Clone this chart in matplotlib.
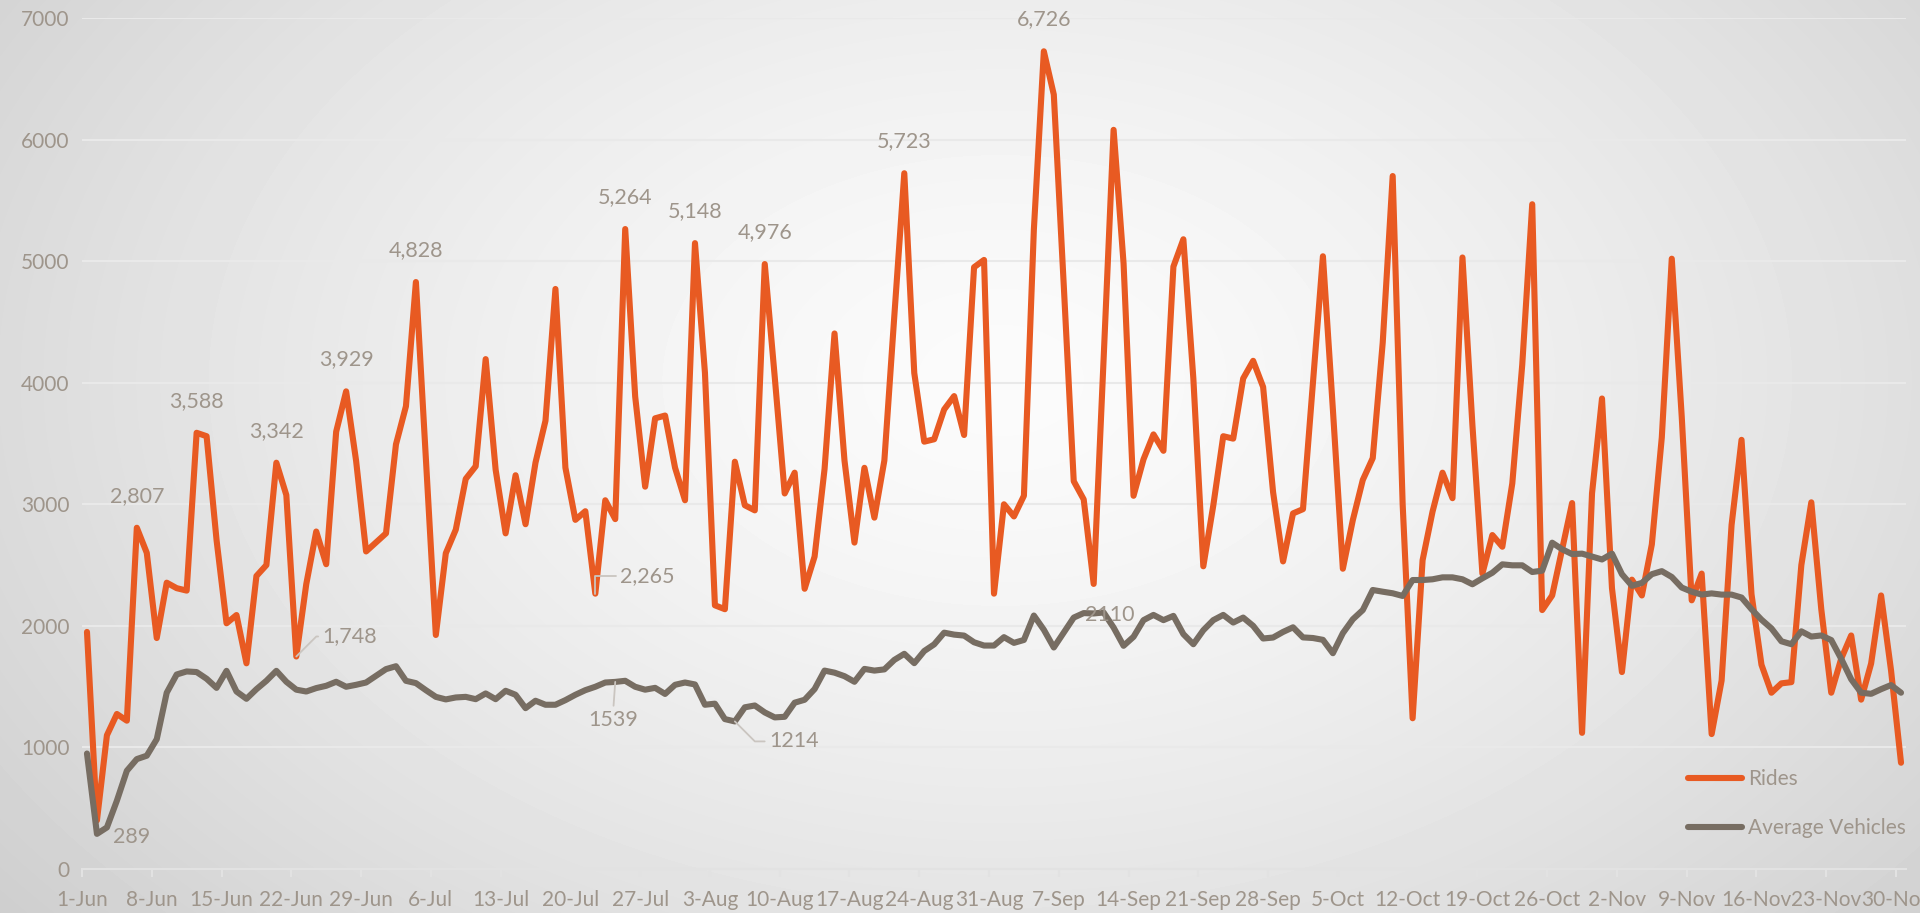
import numpy as np
import pandas as pd
import matplotlib
matplotlib.use("Agg")
import matplotlib.pyplot as plt

plt.rcParams['font.family'] = ['Lato', 'DejaVu Sans']

dates = pd.date_range("2020-06-01", "2020-11-30", freq="D")

# daily rides, one line per month
rides = (
    [1950, 400, 1100, 1275, 1220, 2807, 2600, 1900, 2355, 2310, 2290, 3588, 3560, 2706, 2021,
     2089, 1692, 2410, 2500, 3342, 3076, 1748, 2343, 2776, 2507, 3597, 3929, 3358, 2612, 2687]
    + [2761, 3493, 3806, 4828, 3380, 1925, 2597, 2791, 3209, 3313, 4194, 3284, 2761, 3239, 2836,
       3343, 3687, 4771, 3301, 2872, 2943, 2265, 3033, 2878, 5264, 3886, 3145, 3707, 3730, 3301, 3033]
    + [5148, 4081, 2169, 2137, 3350, 2992, 2950, 4976, 4049, 3089, 3260, 2305, 2570, 3290, 4405,
       3360, 2685, 3300, 2890, 3360, 4550, 5723, 4080, 3515, 3535, 3780, 3890, 3570, 4950, 5010, 2265]
    + [3000, 2900, 3070, 5260, 6726, 6370, 4800, 3190, 3040, 2345, 4200, 6080, 4980, 3070, 3370,
       3575, 3440, 4955, 5180, 4035, 2490, 2990, 3560, 3540, 4035, 4180, 3965, 3100, 2530, 2925]
    + [2960, 4000, 5040, 3780, 2470, 2870, 3200, 3380, 4330, 5700, 3000, 1240, 2540, 2940, 3260,
       3050, 5030, 3650, 2430, 2747, 2651, 3172, 4150, 5468, 2130, 2250, 2630, 3010, 1120, 3090, 3870]
    + [2310, 1620, 2380, 2250, 2670, 3550, 5020, 3720, 2210, 2430, 1110, 1550, 2830, 3530, 2260,
       1680, 1450, 1527, 1537, 2500, 3016, 2137, 1450, 1730, 1921, 1393, 1690, 2250, 1633, 874]
)

# average vehicles per day
vehicles = (
    [950, 289, 342, 562, 808, 904, 932, 1068, 1450, 1600, 1625, 1620, 1565, 1490, 1630,
     1460, 1400, 1479, 1548, 1630, 1540, 1475, 1460, 1488, 1507, 1540, 1499, 1515, 1534, 1589]
    + [1644, 1668, 1548, 1529, 1471, 1416, 1395, 1411, 1416, 1397, 1444, 1397, 1466, 1433, 1323,
       1384, 1351, 1351, 1389, 1433, 1471, 1499, 1534, 1539, 1548, 1499, 1475, 1490, 1440, 1515, 1534]
    + [1518, 1351, 1360, 1233, 1214, 1330, 1345, 1288, 1247, 1252, 1368, 1392, 1480, 1632, 1615,
       1586, 1540, 1646, 1632, 1642, 1720, 1770, 1693, 1793, 1848, 1944, 1928, 1920, 1865, 1838, 1838]
    + [1907, 1860, 1884, 2085, 1968, 1822, 1945, 2068, 2105, 2102, 2110, 1986, 1836, 1910, 2047,
       2090, 2047, 2082, 1932, 1849, 1964, 2047, 2090, 2027, 2068, 2000, 1896, 1904, 1950, 1988]
    + [1905, 1900, 1885, 1775, 1940, 2054, 2130, 2295, 2281, 2268, 2246, 2377, 2377, 2383, 2399,
       2399, 2383, 2342, 2391, 2437, 2506, 2498, 2498, 2443, 2454, 2684, 2630, 2590, 2594, 2570, 2546]
    + [2594, 2425, 2330, 2353, 2425, 2450, 2402, 2315, 2281, 2257, 2267, 2257, 2257, 2233, 2137,
       2051, 1979, 1873, 1849, 1955, 1912, 1921, 1883, 1729, 1561, 1450, 1441, 1479, 1513, 1450]
)

# which points carry a data label
rides_top = ["2020-06-06", "2020-06-12", "2020-06-20", "2020-06-27", "2020-07-04",
             "2020-07-25", "2020-08-01", "2020-08-08", "2020-08-22", "2020-09-05"]

orange = "#E85A22"
taupe = "#776D62"
txt = "#9E958B"
lead_col = "#CAC5C0"

W, H = 1920, 913
fig = plt.figure(figsize=(W / 100, H / 100), dpi=100)

# light radial background like the excel chart area
bg = fig.add_axes([0, 0, 1, 1])
yy, xx = np.mgrid[0:H, 0:W]
r = np.hypot((xx - 1000) / 1050, (yy - 380) / 700)
shade = np.clip(251 - 34 * r ** 1.4, 0, 255) / 255
bg.imshow(shade, cmap="gray", vmin=0, vmax=1, aspect="auto", interpolation="bilinear")
bg.axis("off")

ax = fig.add_axes([82 / W, 1 - 869 / H, (1906 - 82) / W, (869 - 18) / H])
ax.set_facecolor("none")

x = np.arange(len(dates))
ax.plot(x, rides, color=orange, lw=4.4, label="Rides",
        solid_joinstyle="round", solid_capstyle="round", zorder=3)
ax.plot(x, vehicles, color=taupe, lw=4.4, label="Average Vehicles",
        solid_joinstyle="round", solid_capstyle="round", zorder=4)

pos = {d: i for i, d in enumerate(dates.strftime("%Y-%m-%d"))}
fs = 15.5

for d in rides_top:
    i = pos[d]
    ax.annotate(f"{rides[i]:,}", (i, rides[i]), xytext=(0, 32), textcoords="offset pixels",
                ha="center", va="center", fontsize=fs, color=txt, zorder=6)


def leader(text, i, val, off, ha, rel, conn):
    ax.annotate(text, (i, val), xytext=off, textcoords="offset pixels",
                ha=ha, va="center", fontsize=fs, color=txt, zorder=6,
                arrowprops=dict(arrowstyle="-", color=lead_col, lw=1.3,
                                shrinkA=1, shrinkB=0, relpos=rel,
                                connectionstyle=conn))


i = pos["2020-06-22"]
leader(f"{rides[i]:,}", i, rides[i], (26, 20), "left", (0, 0.5), "angle,angleA=0,angleB=45,rad=0")
i = pos["2020-07-22"]
leader(f"{rides[i]:,}", i, rides[i], (25, 18), "left", (0, 0.5), "angle,angleA=0,angleB=90,rad=0")
i = pos["2020-07-24"]
leader(f"{vehicles[i]}", i, vehicles[i], (-2, -38), "center", (0.5, 1), "arc3")
i = pos["2020-08-05"]
leader(f"{vehicles[i]}", i, vehicles[i], (34, -20), "left", (0, 0.5), "angle,angleA=0,angleB=-45,rad=0")

i = pos["2020-06-02"]
ax.annotate(f"{vehicles[i]}", (i, vehicles[i]), xytext=(16, -3), textcoords="offset pixels",
            ha="left", va="center", fontsize=fs, color=txt, zorder=6)
i = pos["2020-09-11"]
ax.annotate(f"{vehicles[i]}", (i, vehicles[i]), xytext=(6, -3), textcoords="offset pixels",
            ha="center", va="center", fontsize=fs, color=txt, zorder=6)

ticks = np.arange(0, len(dates), 7)
ax.set_xticks(ticks - 0.5)
ax.set_xticklabels([f"{d.day}-{d:%b}" for d in dates[ticks]])
ax.set_xlim(-0.5, len(dates) - 0.5)
ax.set_ylim(0, 7000)
ax.set_yticks(range(0, 7001, 1000))

ax.tick_params(axis="x", length=6, width=1.5, color="#E2E2E2", labelsize=15,
               labelcolor=txt, pad=9)
ax.tick_params(axis="y", length=0, labelsize=15, labelcolor=txt, pad=9)
for s in ["top", "right", "left"]:
    ax.spines[s].set_visible(False)
ax.spines["bottom"].set_color("#E2E2E2")
ax.spines["bottom"].set_linewidth(1.5)
ax.grid(axis="y", color="#E9E9E9", lw=1.5)
ax.set_axisbelow(True)

leg = ax.legend(loc="upper left", bbox_to_anchor=(1688 / W, 1 - 769 / H),
                bbox_transform=fig.transFigure, frameon=False, fontsize=15,
                handlelength=2.6, handletextpad=0.3, labelspacing=1.4,
                borderpad=0, borderaxespad=0)
for t in leg.get_texts():
    t.set_color(txt)

fig.savefig("out.png", dpi=100)
